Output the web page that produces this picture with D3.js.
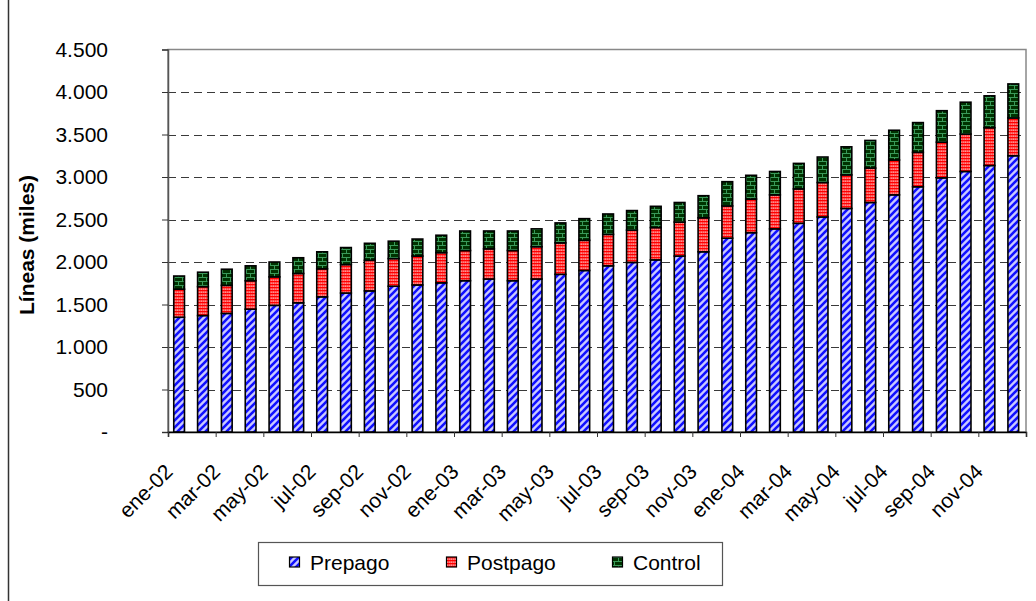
<!DOCTYPE html>
<html><head><meta charset="utf-8">
<script src="https://cdn.jsdelivr.net/npm/d3@7/dist/d3.min.js"></script>
<style>
body{margin:0;background:#fff;}
svg{display:block;font-family:"Liberation Sans",Arial,Helvetica,sans-serif;}
</style></head><body>
<svg id="chart" width="1036" height="601"></svg>
<script>
// Monthly lines in service (thousands), by plan type
const months = [
  "ene-02","feb-02","mar-02","abr-02","may-02","jun-02","jul-02","ago-02","sep-02","oct-02","nov-02","dic-02",
  "ene-03","feb-03","mar-03","abr-03","may-03","jun-03","jul-03","ago-03","sep-03","oct-03","nov-03","dic-03",
  "ene-04","feb-04","mar-04","abr-04","may-04","jun-04","jul-04","ago-04","sep-04","oct-04","nov-04","dic-04"];
const prepago = [1350,1370,1395,1445,1490,1520,1590,1635,1660,1715,1730,1755,
                 1780,1800,1780,1800,1855,1900,1955,1995,2025,2070,2120,2280,
                 2345,2390,2455,2530,2630,2700,2790,2885,2990,3065,3135,3250];
const postpago = [330,340,330,335,335,345,330,335,360,325,340,355,
                  355,355,355,380,370,355,370,380,380,400,400,380,
                  395,400,405,405,395,405,410,405,420,440,445,445];
const control = [155,170,190,175,175,185,200,200,200,205,200,205,
                 230,210,230,210,235,255,240,230,250,230,260,285,
                 280,275,300,300,330,325,350,350,370,375,375,400];
const seriesNames = ["Prepago","Postpago","Control"];
const yTicks = [0,500,1000,1500,2000,2500,3000,3500,4000,4500];
const yTitle = "Líneas (miles)";

const svg = d3.select("#chart");
const W = 1036, H = 601;
const plot = {left:168, right:1026, top:49.5, bottom:432};

// Fill patterns for the three series
const defs = svg.append("defs");
const pPre = defs.append("pattern").attr("id","pat-prepago")
  .attr("patternUnits","userSpaceOnUse").attr("width",7).attr("height",7);
pPre.append("rect").attr("width",7).attr("height",7).attr("fill","#c8c8ff");
pPre.append("path").attr("d","M-1.75,1.75 L1.75,-1.75 M0,7 L7,0 M5.25,8.75 L8.75,5.25")
  .attr("stroke","#1010ff").attr("stroke-width",2.6);

const pPost = defs.append("pattern").attr("id","pat-postpago")
  .attr("patternUnits","userSpaceOnUse").attr("width",4).attr("height",3);
pPost.append("rect").attr("width",4).attr("height",3).attr("fill","#ff0000");
pPost.append("rect").attr("x",0.5).attr("y",0.5).attr("width",1.3).attr("height",1.2).attr("fill","#ffffff");
pPost.append("rect").attr("x",2.5).attr("y",0.5).attr("width",1.3).attr("height",1.2).attr("fill","#ffe6e6");

const pCtl = defs.append("pattern").attr("id","pat-control")
  .attr("patternUnits","userSpaceOnUse").attr("width",8).attr("height",8);
pCtl.append("rect").attr("width",8).attr("height",8).attr("fill","#003300");
pCtl.append("path").attr("d","M0,1.5 H8 M0,5.5 H8 M2.5,1.5 V5.5 M6.5,5.5 V9.5 M6.5,-2.5 V1.5")
  .attr("stroke","#3a9a5a").attr("stroke-width",1).attr("fill","none");

const fills = ["url(#pat-prepago)","url(#pat-postpago)","url(#pat-control)"];

// Outer chart frame (left edge)
svg.append("line").attr("x1",8.5).attr("x2",8.5).attr("y1",0).attr("y2",H)
  .attr("stroke","#333").attr("stroke-width",1.5);

// Scales
const x = d3.scaleBand().domain(months).range([plot.left, plot.right]);
const xIdx = d3.scaleLinear().domain([0, months.length]).range([plot.left, plot.right]);
const y = d3.scaleLinear().domain([0, 4500]).range([plot.bottom, plot.top]);

// Plot area border
svg.append("rect").attr("x",plot.left).attr("y",plot.top)
  .attr("width",plot.right-plot.left).attr("height",plot.bottom-plot.top)
  .attr("fill","none").attr("stroke","#888").attr("stroke-width",1.5);

// Dashed gridlines
svg.append("g").selectAll("line").data(yTicks.filter(v => v > 0 && v < 4500)).join("line")
  .attr("x1",plot.left).attr("x2",plot.right)
  .attr("y1",d => Math.round(y(d))+0.5).attr("y2",d => Math.round(y(d))+0.5)
  .attr("stroke","#3a3a3a").attr("stroke-width",1).attr("stroke-dasharray","8,5");

// Stacked bars
const rows = months.map((m,i) => ({month:m, Prepago:prepago[i], Postpago:postpago[i], Control:control[i]}));
const stacked = d3.stack().keys(seriesNames)(rows);
const bw = x.bandwidth()*0.45;
svg.append("g").selectAll("g").data(stacked).join("g")
  .attr("fill",(d,i) => fills[i])
  .selectAll("rect").data(d => d).join("rect")
  .attr("x",d => x(d.data.month) + (x.bandwidth()-bw)/2 - 0.8)
  .attr("width",bw)
  .attr("y",d => y(d[1]))
  .attr("height",d => y(d[0]) - y(d[1]))
  .attr("stroke","#000").attr("stroke-width",1.6);

// Y axis
const fmt = d3.formatLocale({decimal:",", thousands:".", grouping:[3], currency:["$",""]}).format(",.0f");
const yAxis = svg.append("g").attr("transform",`translate(${plot.left},0)`)
  .call(d3.axisLeft(y).tickValues(yTicks).tickSize(6).tickPadding(54)
    .tickFormat(d => d === 0 ? "-" : fmt(d)));
yAxis.select(".domain").attr("stroke","#555").attr("stroke-width",1.5);
yAxis.selectAll(".tick line").attr("stroke","#333");
yAxis.selectAll("text").attr("font-size",21).attr("fill","#000")
  .attr("font-family","Liberation Sans, Arial, sans-serif");

// X axis
const xAxis = svg.append("g").attr("transform",`translate(0,${plot.bottom})`)
  .call(d3.axisBottom(xIdx).tickValues(d3.range(0, months.length+1, 2)).tickSize(5).tickFormat(""));
xAxis.select(".domain").attr("stroke","#000").attr("stroke-width",1.5);
xAxis.selectAll(".tick line").attr("stroke","#333");

svg.append("g").selectAll("text").data(months.filter((m,i) => i % 2 === 0)).join("text")
  .attr("transform",d => `translate(${x(d)+x.bandwidth()/2-6},${plot.bottom+41}) rotate(-45)`)
  .attr("text-anchor","end").attr("font-size",21).attr("fill","#000")
  .text(d => d);

// Y axis title
svg.append("text").attr("transform","translate(33.5,245) rotate(-90)")
  .attr("text-anchor","middle").attr("font-size",21).attr("font-weight","bold")
  .text(yTitle);

// Legend
const lg = svg.append("g");
lg.append("rect").attr("x",258.5).attr("y",542.5).attr("width",464).attr("height",43)
  .attr("fill","#fff").attr("stroke","#555").attr("stroke-width",1.2);
const legX = [289, 446, 612];
const item = lg.selectAll("g.item").data(seriesNames).join("g").attr("class","item")
  .attr("transform",(d,i) => `translate(${legX[i]},0)`);
item.append("rect").attr("x",0.5).attr("y",557).attr("width",10).attr("height",10)
  .attr("fill",(d,i) => fills[i]).attr("stroke","#000").attr("stroke-width",1.2);
item.append("text").attr("x",21).attr("y",569.5).attr("font-size",21).attr("fill","#000")
  .text(d => d);
</script>
</body></html>
